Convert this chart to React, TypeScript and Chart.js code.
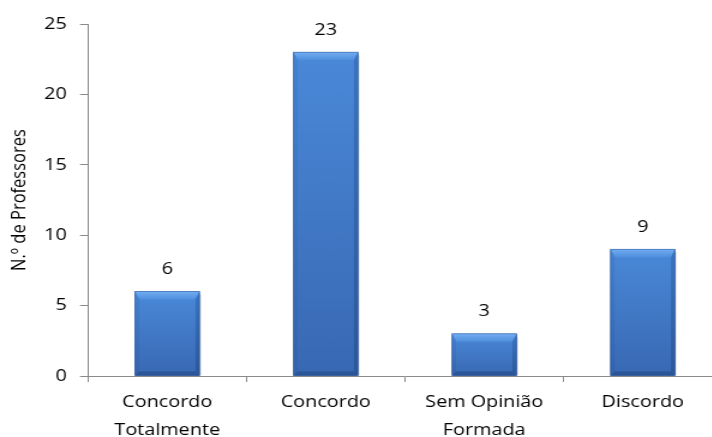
import React, { useEffect, useRef } from "react";
import { Chart, registerables } from "chart.js";

Chart.register(...registerables);

const categories: (string | string[])[] = [
  ["Concordo", "Totalmente"],
  "Concordo",
  ["Sem Opinião", "Formada"],
  "Discordo",
];
const values: number[] = [6, 23, 3, 9];
const yMin = 0;
const yMax = 25;
const yStep = 5;
const yTitle = "N.º de Professores";

const SX = 1.2; // horizontal stretch of the reference picture
const FONT = "'Open Sans', 'Liberation Sans', sans-serif";

const bevelPlugin = {
  id: "bevelBars",
  afterDatasetsDraw(chart: any) {
    const ctx = chart.ctx as CanvasRenderingContext2D;
    const meta = chart.getDatasetMeta(0);
    meta.data.forEach((bar: any, i: number) => {
      const { x, y, base, width } = bar.getProps(["x", "y", "base", "width"], true);
      const L = x - width / 2;
      const R = x + width / 2;
      const T = y;
      const B = base;
      const bs = 3.4; // side bevel (local units)
      const bt = 8; // top bevel
      const bb = 4; // bottom bevel
      ctx.save();
      ctx.fillStyle = "rgba(0,0,0,0.10)";
      ctx.fillRect(R, T + 3, 1.6, B - T - 3);
      const g = ctx.createLinearGradient(0, T, 0, B);
      g.addColorStop(0, "#4A89D8");
      g.addColorStop(1, "#3868B3");
      ctx.fillStyle = g;
      ctx.fillRect(L, T, R - L, B - T);
      const poly = (pts: number[][], fill: any) => {
        ctx.beginPath();
        ctx.moveTo(pts[0][0], pts[0][1]);
        for (let k = 1; k < pts.length; k++) ctx.lineTo(pts[k][0], pts[k][1]);
        ctx.closePath();
        ctx.fillStyle = fill;
        ctx.fill();
      };
      const gt = ctx.createLinearGradient(0, T, 0, T + bt);
      gt.addColorStop(0, "#72ADF0");
      gt.addColorStop(1, "#4E8EDD");
      poly([[L, T], [R, T], [R - bs, T + bt], [L + bs, T + bt]], gt);
      const gl = ctx.createLinearGradient(0, T, 0, B);
      gl.addColorStop(0, "#4481D0");
      gl.addColorStop(1, "#3462AB");
      poly([[L, T], [L + bs, T + bt], [L + bs, B - bb], [L, B]], gl);
      const gr = ctx.createLinearGradient(0, T, 0, B);
      gr.addColorStop(0, "#3A74C2");
      gr.addColorStop(1, "#2C579B");
      poly([[R, T], [R, B], [R - bs, B - bb], [R - bs, T + bt]], gr);
      poly([[L, B], [L + bs, B - bb], [R - bs, B - bb], [R, B]], "#2C5597");
      ctx.strokeStyle = "rgba(40,80,140,0.55)";
      ctx.lineWidth = 0.8;
      ctx.strokeRect(L, T, R - L, B - T);
      ctx.fillStyle = "#000";
      ctx.font = `16.5px ${FONT}`;
      ctx.textAlign = "center";
      ctx.textBaseline = "middle";
      ctx.fillText(String(values[i]), x, T - 22);
      ctx.restore();
    });
  },
};

export default function App() {
  const ref = useRef<HTMLCanvasElement | null>(null);
  useEffect(() => {
    if (!ref.current) return;
    const leftLocal = 88 / SX;
    const chart = new Chart(ref.current, {
      type: "bar",
      data: {
        labels: categories as any,
        datasets: [
          {
            data: values,
            backgroundColor: "#4178C8",
            borderWidth: 0,
            categoryPercentage: 1,
            barPercentage: 0.407,
          },
        ],
      },
      options: {
        animation: false,
        responsive: true,
        maintainAspectRatio: false,
        layout: { padding: { top: 24, right: 610 - 722 / SX, bottom: 0, left: 0 } },
        plugins: { legend: { display: false }, tooltip: { enabled: false } },
        scales: {
          x: {
            grid: {
              display: true,
              drawOnChartArea: false,
              drawTicks: true,
              tickLength: 6,
              color: "#8A8A8A",
              offset: true,
            },
            border: { display: true, color: "#8A8A8A", width: 1 },
            ticks: {
              color: "#000",
              font: { family: FONT, size: 16.5, lineHeight: "28px" } as any,
              padding: 6,
              maxRotation: 0,
              autoSkip: false,
            },
            afterFit: (s: any) => {
              s.height = 437 - 376;
            },
          },
          y: {
            min: yMin,
            max: yMax,
            ticks: {
              stepSize: yStep,
              color: "#000",
              font: { family: FONT, size: 16.5 },
              padding: 11,
            },
            grid: {
              display: true,
              drawOnChartArea: false,
              drawTicks: true,
              tickLength: 6.7,
              color: "#8A8A8A",
            },
            border: { display: true, color: "#8A8A8A", width: 1 },
            title: {
              display: true,
              text: yTitle,
              color: "#000",
              font: { family: FONT, size: 16.5 },
              padding: { top: 6, bottom: 0 },
            },
            afterFit: (s: any) => {
              s.width = leftLocal;
            },
          },
        },
      },
      plugins: [bevelPlugin],
    });
    return () => chart.destroy();
  }, []);

  return (
    <div
      style={{
        position: "fixed",
        left: 0,
        top: 0,
        width: 712,
        height: 437,
        overflow: "hidden",
        background: "#fff",
      }}
    >
      <div
        style={{
          position: "relative",
          width: 610,
          height: 437,
          transform: `scaleX(${SX})`,
          transformOrigin: "0 0",
        }}
      >
        <canvas ref={ref} />
      </div>
    </div>
  );
}
